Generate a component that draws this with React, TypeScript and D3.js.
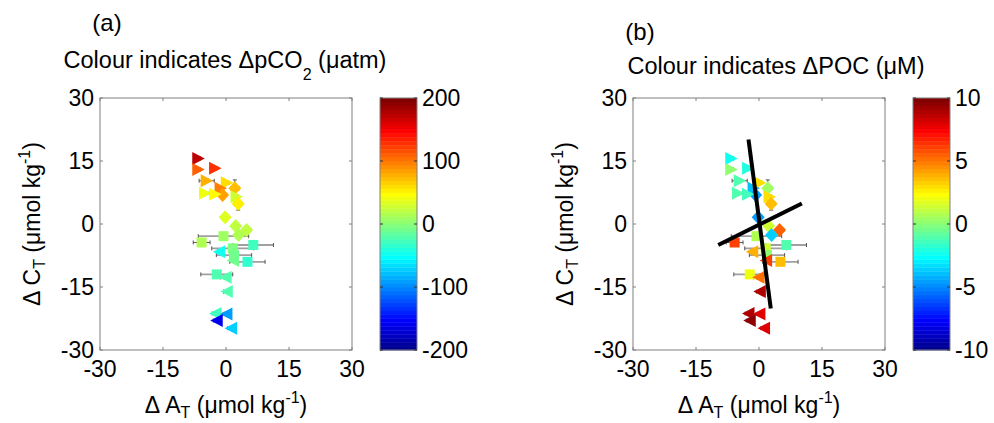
import React from 'react';
import * as d3 from 'd3';

// ---------------- data ----------------
const axisTicks = [-30, -15, 0, 15, 30];
const pco2Ticks = [-200, -100, 0, 100, 200];
const pocTicks = [-10, -5, 0, 5, 10];

const dAT = [-6.6, -6.6, -2.6, -4.6, 0.2, -1.3, -0.8, 2.1, -5.0, -2.6, 2.5, 2.9, -0.2, 2.3, 4.9, 3.0, -0.6, -5.8, 6.5, -1.6, 1.6, 1.9, 1.7, 5.1, -2.2, -0.1, 0.2, -2.5, 0.1, -2.2, 1.2];
const dCT = [15.6, 13.0, 13.3, 10.3, 9.8, 8.5, 6.9, 8.5, 7.3, 7.1, 6.5, 4.8, 1.6, -0.5, -1.4, -2.6, -2.9, -4.4, -5.0, -6.6, -5.8, -7.4, -8.7, -9.0, -12.0, -12.7, -16.1, -21.3, -21.4, -23.0, -24.8];
const markerType = ['>', '>', '>', '>', '>', '>', 'd', 'd', '>', '>', '>', 'd', 'd', 'd', 'd', 'd', 's', 's', 's', '<', 's', 's', '<', 's', 's', '<', '<', '<', '<', '<', '<'];
const dpCO2 = [170, 110, 130, 80, 60, 95, 85, 72, 40, 45, 30, 55, 35, 20, 20, 18, 10, 15, -30, -45, -5, -10, -10, -35, -25, -25, -20, -30, -90, -160, -70];
const dPOC = [-2.5, 0, -2, -1, 3, -4, -4.5, 0.5, -1, -1.5, 3, 3.5, -4.5, 1.5, 5.5, -3.5, 0.8, 6, -1, 4, 1.5, 0, 6, 3.5, 2, 5, 9, 9, 8, 9.5, 8];
const xErr = [0.5, 0.5, 0.5, 1.8, 0.5, 0.5, 0.5, 1.0, 1.0, 1.0, 0.5, 1.0, 0.5, 0.5, 1.0, 0.5, 6.0, 2.0, 4.8, 0.5, 5.0, 4.2, 0.5, 4.2, 3.8, 1.2, 0.8, 0.8, 0.8, 0.8, 0.8];
const yErr = [0.4, 0.4, 0.4, 0.4, 0.4, 0.4, 0.4, 2.0, 0.4, 0.4, 0.4, 1.5, 0.4, 0.4, 0.8, 0.4, 0.4, 0.4, 0.4, 0.4, 0.4, 0.4, 0.4, 0.4, 0.4, 0.4, 0.4, 0.4, 0.4, 0.4, 0.4];

// fitted lines in panel (b)
const line1X = [-2.5, 2.8];
const line1Y = [20.1, -20.1];
const line2X = [-9.7, 10.2];
const line2Y = [-5.0, 4.9];

// ---------------- helpers ----------------
const FONT = '"Liberation Sans", Arial, Helvetica, sans-serif';

function jet64(): string[] {
  const n = 16;
  const m = 64;
  const u: number[] = [];
  for (let i = 1; i <= n; i++) u.push(i / n);
  for (let i = 0; i < n - 1; i++) u.push(1);
  for (let i = n; i >= 1; i--) u.push(i / n);
  const J = Array.from({ length: m }, () => [0, 0, 0]);
  const g0 = Math.ceil(n / 2) - (m % 4 === 1 ? 1 : 0);
  for (let k = 0; k < u.length; k++) {
    const g = g0 + k + 1;
    const r = g + n;
    const b = g - n;
    if (g >= 1 && g <= m) J[g - 1][1] = u[k];
    if (r >= 1 && r <= m) J[r - 1][0] = u[k];
    if (b >= 1 && b <= m) J[b - 1][2] = u[k];
  }
  return J.map(([r, g, b]) => d3.rgb(r * 255, g * 255, b * 255).formatHex());
}
const JET = jet64();

function colorFor(v: number, cmin: number, cmax: number) {
  const idx = Math.max(0, Math.min(63, Math.floor(((v - cmin) / (cmax - cmin)) * 64)));
  return JET[idx];
}

function markerPath(type: string, cx: number, cy: number) {
  if (type === '>') return `M${cx + 6.5},${cy} L${cx - 6},${cy - 6.5} L${cx - 6},${cy + 6.5} Z`;
  if (type === '<') return `M${cx - 6.5},${cy} L${cx + 6},${cy - 6.5} L${cx + 6},${cy + 6.5} Z`;
  if (type === 'd') return `M${cx},${cy - 7} L${cx + 6.5},${cy} L${cx},${cy + 7} L${cx - 6.5},${cy} Z`;
  return `M${cx - 5},${cy - 5} h10 v10 h-10 Z`;
}

// ---------------- layout ----------------
const BOX_L = 100;
const BOX_T = 98;
const BOX_S = 252;
const CB_L = 380;
const CB_W = 37;
const FS = 23;

interface PanelProps {
  ox: number;
  vals: number[];
  cTicks: number[];
  letter: string;
  letterY: number;
  titleY: number;
  titleCX: number;
  title: React.ReactNode;
  showLines: boolean;
}

function Panel({ ox, vals, cTicks, letter, letterY, titleY, titleCX, title, showLines }: PanelProps) {
  const x = d3.scaleLinear().domain([-30, 30]).range([ox + BOX_L, ox + BOX_L + BOX_S]);
  const y = d3.scaleLinear().domain([-30, 30]).range([BOX_T + BOX_S, BOX_T]);
  const cmin = cTicks[0];
  const cmax = cTicks[cTicks.length - 1];
  const cy = d3.scaleLinear().domain([cmin, cmax]).range([BOX_T + BOX_S, BOX_T]);
  const cbL = ox + CB_L;
  const bandH = BOX_S / 64;
  const axisCol = '#808080';
  const tl = 3;
  const line = d3.line<[number, number]>().x(d => x(d[0])).y(d => y(d[1]));

  return (
    <g fontFamily={FONT} fill="#000">
      <text x={ox + 107} y={letterY} textAnchor="middle" fontSize={24}>{letter}</text>
      <text x={titleCX} y={titleY} textAnchor="middle" fontSize={23.5}>{title}</text>

      {/* axes box */}
      <rect x={x(-30)} y={y(30)} width={BOX_S} height={BOX_S} fill="#fff" stroke={axisCol} strokeWidth={1} />
      {axisTicks.map(t => (
        <g key={'t' + t}>
          <line x1={x(t)} x2={x(t)} y1={y(-30)} y2={y(-30) - tl} stroke={axisCol} />
          <line x1={x(t)} x2={x(t)} y1={y(30)} y2={y(30) + tl} stroke={axisCol} />
          <line x1={x(-30)} x2={x(-30) + tl} y1={y(t)} y2={y(t)} stroke={axisCol} />
          <line x1={x(30)} x2={x(30) - tl} y1={y(t)} y2={y(t)} stroke={axisCol} />
          <text x={x(t)} y={377} textAnchor="middle" fontSize={FS}>{t}</text>
          <text x={x(-30) - 6} y={y(t)} dy="0.35em" textAnchor="end" fontSize={FS}>{t}</text>
        </g>
      ))}

      {/* axis labels */}
      <text x={x(0)} y={413} textAnchor="middle" fontSize={FS}>
        Δ A<tspan fontSize={16} dy={5}>T</tspan><tspan dy={-5}> (μmol kg</tspan><tspan fontSize={16} dy={-10}>-1</tspan><tspan dy={10}>)</tspan>
      </text>
      <text transform={`translate(${ox + 40},${y(0)}) rotate(-90)`} textAnchor="middle" fontSize={FS}>
        Δ C<tspan fontSize={16} dy={5}>T</tspan><tspan dy={-5}> (μmol kg</tspan><tspan fontSize={16} dy={-10}>-1</tspan><tspan dy={10}>)</tspan>
      </text>

      {/* error bars */}
      {dAT.map((v, i) => {
        const big = xErr[i] > 3;
        const col = big ? '#a0a0a0' : '#555';
        const sw = big ? 1.8 : 1;
        const px = x(v);
        const py = y(dCT[i]);
        const x0 = x(v - xErr[i]);
        const x1 = x(v + xErr[i]);
        const y0 = y(dCT[i] - yErr[i]);
        const y1 = y(dCT[i] + yErr[i]);
        return (
          <g key={'e' + i} stroke={col} strokeWidth={sw}>
            <line x1={x0} x2={x1} y1={py} y2={py} />
            <line x1={x0} x2={x0} y1={py - 2} y2={py + 2} stroke="#555" strokeWidth={1} />
            <line x1={x1} x2={x1} y1={py - 2} y2={py + 2} stroke="#555" strokeWidth={1} />
            <line x1={px} x2={px} y1={y0} y2={y1} stroke="#555" strokeWidth={1} />
            <line x1={px - 2} x2={px + 2} y1={y0} y2={y0} stroke="#555" strokeWidth={1} />
            <line x1={px - 2} x2={px + 2} y1={y1} y2={y1} stroke="#555" strokeWidth={1} />
          </g>
        );
      })}

      {/* markers */}
      {dAT.map((v, i) => (
        <path key={'m' + i} d={markerPath(markerType[i], x(v), y(dCT[i]))} fill={colorFor(vals[i], cmin, cmax)} />
      ))}

      {showLines && (
        <g stroke="#000" strokeWidth={4} fill="none">
          <path d={line(line1X.map((d, i) => [d, line1Y[i]] as [number, number])) || ''} />
          <path d={line(line2X.map((d, i) => [d, line2Y[i]] as [number, number])) || ''} />
        </g>
      )}

      {/* colorbar */}
      {JET.map((c, i) => (
        <rect key={'cb' + i} x={cbL} y={BOX_T + BOX_S - (i + 1) * bandH} width={CB_W} height={bandH + 0.4} fill={c} />
      ))}
      <rect x={cbL} y={BOX_T} width={CB_W} height={BOX_S} fill="none" stroke={axisCol} />
      {cTicks.map(t => (
        <g key={'c' + t}>
          <line x1={cbL} x2={cbL + 3} y1={cy(t)} y2={cy(t)} stroke="#333" />
          <line x1={cbL + CB_W} x2={cbL + CB_W - 3} y1={cy(t)} y2={cy(t)} stroke="#333" />
          <text x={cbL + CB_W + 5} y={cy(t)} dy="0.35em" fontSize={FS}>{t}</text>
        </g>
      ))}
    </g>
  );
}

export default function App() {
  return (
    <svg width={994} height={423} style={{ position: 'absolute', left: 0, top: 0, background: '#fff' }}>
      <rect x={0} y={0} width={994} height={423} fill="#fff" />
      <Panel
        ox={0}
        vals={dpCO2}
        cTicks={pco2Ticks}
        letter="(a)"
        letterY={31}
        titleY={68}
        titleCX={225}
        title={<>Colour indicates ΔpCO<tspan fontSize={16} dy={12}>2</tspan><tspan dy={-12}> (μatm)</tspan></>}
        showLines={false}
      />
      <Panel
        ox={533}
        vals={dPOC}
        cTicks={pocTicks}
        letter="(b)"
        letterY={40}
        titleY={74}
        titleCX={776}
        title={<>Colour indicates ΔPOC (μM)</>}
        showLines={true}
      />
    </svg>
  );
}
